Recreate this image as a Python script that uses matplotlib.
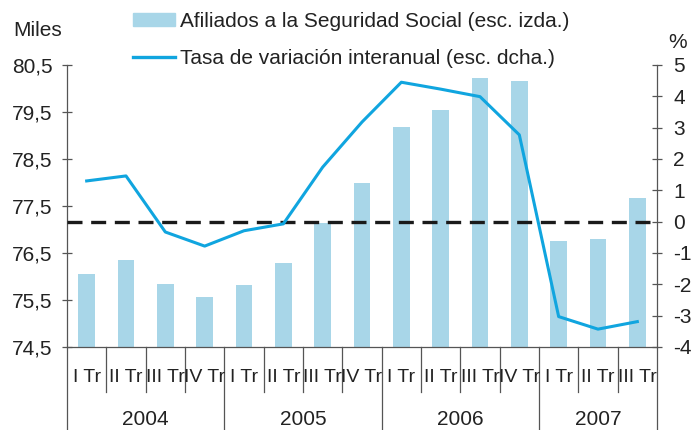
import numpy as np
import matplotlib
matplotlib.use('Agg')
import matplotlib.pyplot as plt
from matplotlib.patches import Patch
from matplotlib.lines import Line2D

plt.rcParams['font.family'] = ['Liberation Sans', 'DejaVu Sans']
plt.rcParams['font.size'] = 15

# data
quarters = ['I Tr', 'II Tr', 'III Tr', 'IV Tr'] * 3 + ['I Tr', 'II Tr', 'III Tr']
years = ['2004', '2005', '2006', '2007']
quarters_per_year = [4, 4, 4, 3]
afiliados = [76.05, 76.35, 75.84, 75.56, 75.82, 76.29, 77.14, 77.99,
             79.18, 79.54, 80.22, 80.16, 76.76, 76.79, 77.68]
tasa = [1.30, 1.46, -0.33, -0.78, -0.29, -0.07, 1.74, 3.18,
        4.45, 4.23, 3.99, 2.77, -3.03, -3.43, -3.19]
left_ticks = [74.5, 75.5, 76.5, 77.5, 78.5, 79.5, 80.5]
right_ticks = [-4, -3, -2, -1, 0, 1, 2, 3, 4, 5]

bar_color = '#a8d6e8'
line_color = '#10a5df'
axis_color = '#555555'
text_color = '#222222'

fig = plt.figure(figsize=(6.91, 4.30), dpi=100)
ax = fig.add_axes([67 / 691, 1 - 347 / 430, 590 / 691, 282 / 430])
ax2 = ax.twinx()

x = np.arange(len(afiliados))
ax.bar(x, np.array(afiliados) - 74.5, bottom=74.5, width=0.42, color=bar_color, zorder=2)
ax.set_ylim(74.5, 80.5)
ax.set_xlim(-0.5, len(afiliados) - 0.5)
ax.set_yticks(left_ticks)
ax.set_yticklabels([('%.1f' % v).replace('.', ',') for v in left_ticks])

ax2.axhline(0, color='#1a1a1a', lw=2.4, ls=(0, (4.5, 2.6)), zorder=3)
ax2.plot(x, tasa, color=line_color, lw=2.2, zorder=4)
ax2.set_ylim(-4, 5)
ax2.set_yticks(right_ticks)
ax2.set_yticklabels([str(v) for v in right_ticks])

for a in (ax, ax2):
    for s in a.spines.values():
        s.set_visible(False)
    a.tick_params(axis='y', direction='inout', length=7.2, width=0.9, color=axis_color,
                  labelsize=15, labelcolor=text_color)
ax.tick_params(axis='y', pad=7)
ax2.tick_params(axis='y', pad=8)
ax.spines['left'].set_visible(True)
ax.spines['bottom'].set_visible(True)
ax2.spines['right'].set_visible(True)
for s in (ax.spines['left'], ax.spines['bottom'], ax2.spines['right']):
    s.set_color(axis_color)
    s.set_linewidth(0.9)

# category axis: quarter labels, boundary ticks and year labels
ax.set_xticks([])
trans = ax.get_xaxis_transform()
for i, q in enumerate(quarters):
    ax.text(i, -0.107, q, transform=trans, ha='center', va='center',
            fontsize=14, color=text_color)
bounds = np.cumsum([0] + quarters_per_year) - 0.5
for b in np.arange(-0.5, len(afiliados), 1.0):
    if b in bounds:
        ax.plot([b, b], [0, -0.295], transform=trans, color=axis_color, lw=0.9, clip_on=False)
    else:
        ax.plot([b, b], [0, -0.16], transform=trans, color=axis_color, lw=0.9, clip_on=False)
for k, yr in enumerate(years):
    ax.text((bounds[k] + bounds[k + 1]) / 2, -0.257, yr, transform=trans,
            ha='center', va='center', fontsize=15, color=text_color)

fig.text(13 / 691, 1 - 31 / 430, 'Miles', ha='left', va='center', fontsize=15, color=text_color)
fig.text(668 / 691, 1 - 43 / 430, '%', ha='left', va='center', fontsize=15, color=text_color)

handles = [Patch(color=bar_color), Line2D([0], [0], color=line_color, lw=2.4)]
labels = ['Afiliados a la Seguridad Social (esc. izda.)',
          'Tasa de variación interanual (esc. dcha.)']
fig.legend(handles, labels, loc='upper left', bbox_to_anchor=(133 / 691, 1 - 12 / 430),
           frameon=False, borderpad=0, borderaxespad=0, handlelength=2.0,
           handleheight=0.56, handletextpad=0.25, labelspacing=0.85,
           fontsize=15, labelcolor=text_color)

fig.savefig('out.png', dpi=100)
